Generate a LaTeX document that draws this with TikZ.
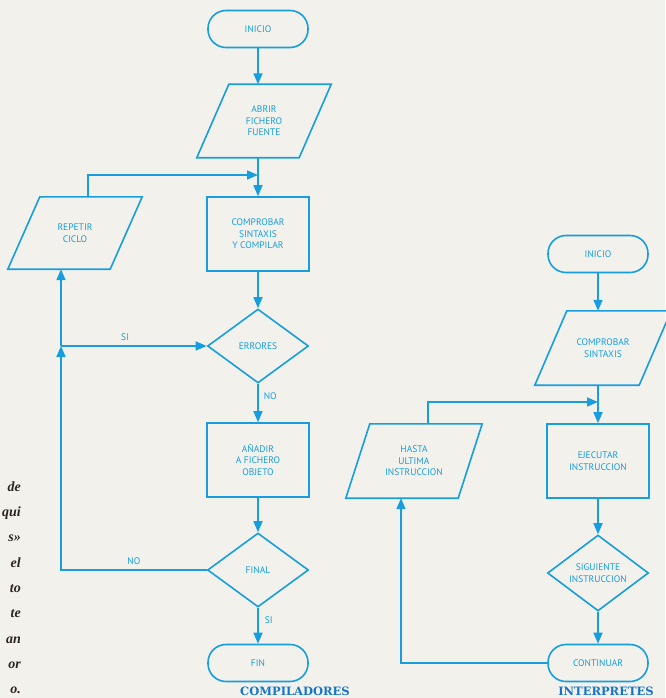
\documentclass[tikz,border=0pt]{standalone}
\usepackage{fontspec}
\setmainfont{Liberation Serif}
\newfontfamily\flowfont{PT Sans}
\newfontfamily\labelfont{DejaVu Serif}
\usetikzlibrary{shapes.geometric,arrows.meta,calc}
\definecolor{flowblue}{RGB}{22,158,222}
\definecolor{titleblue}{RGB}{20,118,200}
\definecolor{paper}{RGB}{243,241,235}
\definecolor{inkdark}{RGB}{45,35,35}

\begin{document}
\begin{tikzpicture}[x=1pt,y=-1pt,
    flowline/.style={draw=flowblue,line width=1.6pt},
    arr/.style={flowline,-{Triangle[length=11pt,width=9pt]}},
    flowtext/.style={text=flowblue,font=\flowfont\fontsize{9.5}{11.5}\selectfont,align=center,inner sep=0pt},
    terminal/.style={flowtext,flowline,rectangle,rounded corners=18pt,minimum width=100pt,minimum height=37pt},
    process/.style={flowtext,flowline,rectangle,minimum width=102pt,minimum height=74pt},
    decision/.style={flowtext,flowline,diamond,minimum width=101pt,minimum height=74pt},
    io/.style={flowtext,rectangle,minimum width=#1,minimum height=73pt},
    pagetext/.style={text=inkdark,font=\bfseries\itshape\fontsize{14}{20}\selectfont,inner sep=0pt},
    title/.style={text=titleblue,font=\labelfont\bfseries\fontsize{11.5}{12}\selectfont,inner sep=0pt}]
    \useasboundingbox[fill=paper] (0,0) rectangle (665,698);

    % compiladores
    \node[terminal] (inicio) at (258,29) {INICIO};
    \node[io=102pt] (abrir) at (264,121) {ABRIR\\FICHERO\\FUENTE};
    \node[process] (compilar) at (258,234) {COMPROBAR\\SINTAXIS\\Y COMPILAR};
    \node[decision] (errores) at (258,346) {ERRORES};
    \node[process] (anadir) at (258,460) {AÑADIR\\A FICHERO\\OBJETO};
    \node[decision] (final) at (258,570) {FINAL};
    \node[terminal] (fin) at (258,663) {FIN};
    \node[io=102pt,minimum height=72pt] (repetir) at (75,233) {REPETIR\\CICLO};

    % interpretes
    \node[terminal] (inicio2) at (598,254) {INICIO};
    \node[io=104pt,minimum height=74pt] (sintaxis) at (603,348) {COMPROBAR\\SINTAXIS};
    \node[process] (ejecutar) at (598,461) {EJECUTAR\\INSTRUCCION};
    \node[decision] (siguiente) at (598,573) {SIGUIENTE\\INSTRUCCION};
    \node[terminal] (continuar) at (598,663) {CONTINUAR};
    \node[io=112pt,minimum height=74pt] (hasta) at (414,461) {HASTA\\ULTIMA\\INSTRUCCION};

    % paralelogramos
    \foreach \n/\s in {abrir/16,repetir/16,sintaxis/16,hasta/12}
        \draw[flowline] ($(\n.north west)+(\s,0)$) -- ($(\n.north east)+(\s,0)$)
            -- ($(\n.south east)-(\s,0)$) -- ($(\n.south west)-(\s,0)$) -- cycle;

    % uniones
    \coordinate (jtop) at (258,175);
    \coordinate (rtop) at (88,175);
    \coordinate (jmid) at (61,346);
    \coordinate (jright) at (598,402);
    \coordinate (htop) at (428,402);
    \coordinate (hbot) at (401,663);

    % flechas izquierda
    \draw[arr] (inicio.south) -- (inicio.south |- abrir.north);
    \draw[arr] (abrir.south -| inicio) -- (compilar.north);
    \draw[arr] (rtop |- repetir.north) -- (rtop) -- (jtop);
    \draw[arr] (compilar) -- (errores);
    \draw[arr] (errores) -- node[flowtext,pos=0.33,right=5pt] {NO} (anadir);
    \draw[arr] (anadir) -- (final);
    \draw[arr] (final) -- node[flowtext,pos=0.35,right=6pt] {SI} (fin);
    \draw[arr] (final.west) -- node[flowtext,above=5pt] {NO} (final.west -| jmid) -- (jmid);
    \draw[arr] (jmid) -- (jmid |- repetir.south);
    \draw[arr] (jmid) -- node[flowtext,pos=0.44,above=5pt] {SI} (errores.west);

    % flechas derecha
    \draw[arr] (inicio2) -- (inicio2 |- sintaxis.north);
    \draw[arr] (sintaxis.south -| ejecutar) -- (ejecutar);
    \draw[arr] (htop |- hasta.north) -- (htop) -- (jright);
    \draw[arr] (ejecutar) -- (siguiente);
    \draw[arr] (siguiente) -- (continuar);
    \draw[arr] (continuar.west) -- (hbot) -- (hbot |- hasta.south);

    % titulos
    \node[title,anchor=base] (compiladores) at (295,695) {COMPILADORES};
    \node[title,anchor=base] (interpretes) at (606,695) {INTERPRETES};

    % texto de la pagina
    \foreach \w [count=\i] in {de,qui,s»,el,to,te,an,or,o.}
        \node[pagetext,anchor=base east] (m\i) at (21,466+25.3*\i) {\w};
\end{tikzpicture}
\end{document}
